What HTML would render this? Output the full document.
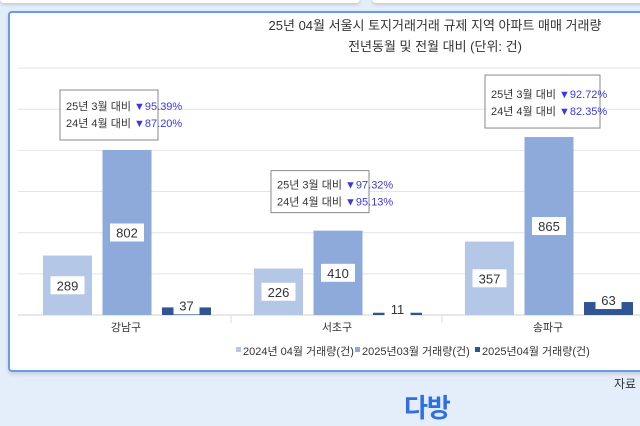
<!DOCTYPE html>
<html><head><meta charset="utf-8"><style>
body{margin:0;width:640px;height:426px;overflow:hidden;background:#e4eefb;font-family:"Liberation Sans","Noto Sans CJK KR",sans-serif;position:relative}
.card{position:absolute;left:8px;top:11px;width:640px;height:357px;background:#fff;border:2px solid #6a9be6;border-radius:4px;box-shadow:0 2px 4px rgba(0,0,0,.15)}
.top{position:absolute;left:0;top:-6px;width:360px;height:9px;background:#fff;border-radius:4px;box-shadow:0 2px 3px rgba(0,0,0,.15)}
.top2{position:absolute;left:372px;top:-6px;width:280px;height:9px;background:#fff;border-radius:4px;box-shadow:0 2px 3px rgba(0,0,0,.15)}
</style></head><body>
<div class="top"></div>
<div class="top2"></div>
<div class="card"></div>
<svg id="c" width="640" height="426" style="position:absolute;left:0;top:0"></svg>
<div style="position:absolute;left:614px;top:375px;font-size:12px;color:#333">자료</div>
<div style="position:absolute;left:404px;top:388px;font-size:26px;font-weight:bold;color:#2f6fe0;letter-spacing:-1px">다방</div>
<script>
const categories=["강남구","서초구","송파구"];
const series=["2024년 04월 거래량(건)","2025년03월 거래량(건)","2025년04월 거래량(건)"];
const s2404=[289,226,357];
const s2503=[802,410,865];
const s2504=[37,11,63];
const notes=[["95.39%","87.20%"],["97.32%","95.13%"],["92.72%","82.35%"]];
const colors=["#b4c7e7","#8eaadb","#2f5597"];
const svg=document.getElementById('c');const NS="http://www.w3.org/2000/svg";
function el(t,a,txt){const e=document.createElementNS(NS,t);for(const k in a)e.setAttribute(k,a[k]);if(txt!=null)e.textContent=txt;svg.appendChild(e);return e;}
const base=315,scale=165/802;
const y=v=>base-v*scale;
const gx=i=>20+i*211;
for(let v=200;v<=1200;v+=200){const g=el('line',{x1:18,x2:640,y1:y(v),y2:y(v),stroke:'#e4e4e4'});
}
const ax=el('line',{x1:18,x2:640,y1:base,y2:base,stroke:'#d0d0d0'});

const t1=el('text',{x:435,y:30,'text-anchor':'middle','font-size':13,fill:'#333'},"25년 04월 서울시 토지거래거래 규제 지역 아파트 매매 거래량");

const t2=el('text',{x:435,y:51,'text-anchor':'middle','font-size':13,fill:'#333'},"전년동월 및 전월 대비 (단위: 건)");

const all=[s2404,s2503,s2504];
categories.forEach((c,i)=>{
 if(i>0){const d=el('line',{x1:gx(i),x2:gx(i),y1:base,y2:base+8,stroke:'#ddd'});}
 all.forEach((s,j)=>{
  const x=gx(i)+23+j*59.5,w=49,v=s[i];
  const r=el('rect',{x:x,y:y(v),width:w,height:v*scale,fill:colors[j]});
  
  const ly=j==2?Math.min(y(v)-2,base-6):(y(v)+base)/2;
  const bw=String(v).length*8+10;
  const lb=el('rect',{x:x+w/2-bw/2,y:ly-9,width:bw,height:18,fill:'#fff'});
  
  const lt=el('text',{x:x+w/2,y:ly+5,'text-anchor':'middle','font-size':13,fill:'#333'},String(v));
  
 });
 const cl=el('text',{x:gx(i)+106,y:331,'text-anchor':'middle','font-size':11,fill:'#333'},c);
 
 // annotation box above the tallest bar
 const top=y(s2503[i]);
 const bx=gx(i)+(i==2?43:40),by=top-(i==2?62:60),bwid=i==2?115:98,bh=i==2?53:50;
 const ab=el('rect',{x:bx,y:by,width:bwid,height:bh-(i==1?8:0),fill:'#fff',stroke:'#888'});
 
 const oy=i==1?0:0;
 [["25년 3월 대비 ",notes[i][0]],["24년 4월 대비 ",notes[i][1]]].forEach((ln,k)=>{
  const tx=el('text',{x:bx+6,y:by+(i==1?18:(i==2?23:20))+k*17,'font-size':11,fill:'#333'});
  
  const a=document.createElementNS(NS,'tspan');a.textContent=ln[0];tx.appendChild(a);
  const b=document.createElementNS(NS,'tspan');b.setAttribute('fill','#3a3ae0');b.textContent='▼'+ln[1];tx.appendChild(b);
 });
});
series.forEach((s,j)=>{
 const x=[236,355,475][j];
 const m=el('rect',{x:x,y:347,width:5,height:5,fill:colors[j]});
 
 const t=el('text',{x:x+7,y:355,'font-size':11,fill:'#333'},s);
 
});
</script>
</body></html>
